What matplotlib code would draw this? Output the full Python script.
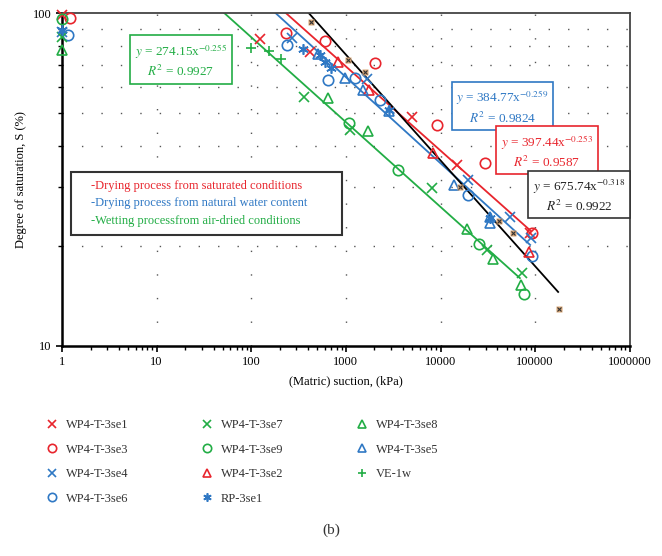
import numpy as np
import matplotlib
matplotlib.use('Agg')
import matplotlib.pyplot as plt
from matplotlib.lines import Line2D
from matplotlib.patches import Rectangle
from matplotlib.ticker import FixedLocator, NullFormatter, FuncFormatter

plt.rcParams['font.family'] = ['Liberation Serif', 'DejaVu Serif']
plt.rcParams['mathtext.fontset'] = 'stix'

RED = '#e8252d'
BLUE = '#2f78c4'
GREEN = '#22ad45'
TAN = '#d9a777'

# data: suction (kPa) and degree of saturation (%)
se1_x = [1, 124, 417, 4975, 15100, 88500]
se1_y = [99, 83.5, 76.4, 48.9, 35.0, 21.9]
se3_x = [1.2, 233, 600, 2037, 9140, 29600, 93000]
se3_y = [96.8, 87.3, 82.8, 70.8, 46.2, 35.4, 21.9]
se4_x = [1, 268, 1663, 19700, 54400, 90100]
se4_y = [88, 84.1, 63.4, 31.6, 24.5, 21.1]
se6_x = [1.15, 241, 653, 1250, 2300, 19700, 92300]
se6_y = [86, 80.3, 63.1, 63.8, 54.8, 28.5, 18.6]
se7_x = [1, 361, 1107, 8090, 30900, 73400]
se7_y = [85, 56.2, 44.7, 29.9, 19.5, 16.6]
se9_x = [1, 1089, 3590, 25800, 76500]
se9_y = [96, 46.8, 33.8, 20.2, 14.3]
se2_x = [833, 1745, 8300, 87000]
se2_y = [71.6, 58.7, 37.9, 19.2]
rp_x = [1, 355, 530, 603, 698, 2885, 33000]
rp_y = [89, 77.9, 75.0, 71.6, 68.4, 51.2, 24.3]
se8_x = [1, 644, 1703, 18970, 36200, 71100]
se8_y = [77.6, 55.8, 44.4, 22.4, 18.2, 15.2]
se5_x = [512, 981, 1510, 2885, 13900, 33000, 33000]
se5_y = [75.5, 63.8, 58.8, 51.0, 30.5, 23.5, 24.5]
ve_x = [99.5, 155, 207]
ve_y = [78.8, 77.0, 72.7]
tan_x = [429, 1063, 1596, 16100, 42000, 58100, 179000]
tan_y = [94.4, 72.6, 66.5, 30.0, 23.7, 21.8, 12.9]

# power-law fits y = a*x^b
fit_a = [274.15, 384.77, 397.44, 675.74]
fit_b = [-0.255, -0.259, -0.253, -0.318]
fit_r2 = [0.9927, 0.9824, 0.9587, 0.9922]
fit_xmax = [69000, 88500, 90000, 175000]
fit_col = [GREEN, BLUE, RED, 'black']

fig = plt.figure(figsize=(6.62, 5.56), dpi=100)
ax = fig.add_axes([0.0937, 0.3777, 0.8576, 0.5984])
ax.set_xscale('log')
ax.set_yscale('log')
ax.set_xlim(1, 1e6)
ax.set_ylim(10, 100)

# grid
for gx in [10, 100, 1000, 10000, 100000]:
    ax.axvline(gx, color='#555555', lw=1, ls=(0, (1, 16)), zorder=0)
for gy in range(20, 100, 10):
    ax.axhline(gy, color='#555555', lw=1, ls=(0, (1, 13)), zorder=0)

# fit lines
for a, b, xm, c in zip(fit_a, fit_b, fit_xmax, fit_col):
    xs = np.logspace(0, np.log10(xm), 200)
    ax.plot(xs, a * xs**b, color=c, lw=1.3, zorder=2)

ms = 7.5
mew = 1.2
series = [
    (se1_x, se1_y, 'x', RED, 'WP4-T-3se1'),
    (se3_x, se3_y, 'o', RED, 'WP4-T-3se3'),
    (se4_x, se4_y, 'x', BLUE, 'WP4-T-3se4'),
    (se6_x, se6_y, 'o', BLUE, 'WP4-T-3se6'),
    (se7_x, se7_y, 'x', GREEN, 'WP4-T-3se7'),
    (se9_x, se9_y, 'o', GREEN, 'WP4-T-3se9'),
    (se2_x, se2_y, '^', RED, 'WP4-T-3se2'),
    (rp_x, rp_y, (6, 2, 0), BLUE, 'RP-3se1'),
    (se8_x, se8_y, '^', GREEN, 'WP4-T-3se8'),
    (se5_x, se5_y, '^', BLUE, 'WP4-T-3se5'),
    (ve_x, ve_y, '+', GREEN, 'VE-1w'),
]
handles = []
for xs, ys, m, c, lab in series:
    ax.plot(xs, ys, ls='none', marker=m, ms=ms, mew=mew, mec=c, mfc='none',
            clip_on=False, zorder=3)
    handles.append(Line2D([], [], ls='none', marker=m, ms=6, mew=mew, mec=c,
                          mfc='none', label=lab))

ax.plot(tan_x, tan_y, ls='none', marker='s', ms=5, mfc=TAN, mec='none', zorder=4)
ax.plot(tan_x, tan_y, ls='none', marker='x', ms=3.5, mew=0.8, mec='#333333', zorder=5)

# axes styling
for s in ['left', 'bottom']:
    ax.spines[s].set_linewidth(1.8)
    ax.spines[s].set_color('black')
for s in ['top', 'right']:
    ax.spines[s].set_linewidth(1.3)
    ax.spines[s].set_color('#444444')

ax.xaxis.set_major_locator(FixedLocator([1, 10, 100, 1000, 10000, 100000, 1000000]))
ax.xaxis.set_major_formatter(FuncFormatter(lambda v, p: '%d' % v))
ax.xaxis.set_minor_formatter(NullFormatter())
ax.yaxis.set_major_locator(FixedLocator([10, 100]))
ax.yaxis.set_major_formatter(FuncFormatter(lambda v, p: '%d' % v))
ax.yaxis.set_minor_formatter(NullFormatter())
ax.tick_params(which='both', direction='out', labelsize=9, color='black', top=False, right=False)
ax.tick_params(which='major', length=4, width=1.2)
ax.tick_params(which='minor', length=3, width=1)

ax.set_xlabel('(Matric) suction, (kPa)', fontsize=9, labelpad=5)
ax.set_ylabel('Degree of saturation, S (%)', fontsize=9, labelpad=4)

# equation boxes
eq_pos = [(0.2096, 0.858), (0.776, 0.718), (0.854, 0.585), (0.911, 0.452)]
for (px, py), a, b, r2, c in zip(eq_pos, fit_a, fit_b, fit_r2, fit_col):
    txt = '$y$ = %.2fx$^{%s}$\n$R^2$ = %.4f' % (a, '%.3f' % b, r2)
    ax.text(px, py, txt, transform=ax.transAxes, ha='center', va='center',
            fontsize=9.5, color=c if c != 'black' else '#222222', linespacing=1.25,
            multialignment='center',
            bbox=dict(boxstyle='square,pad=0.35', fc='white', ec=c if c != 'black' else '#333333', lw=1.2),
            zorder=6)

# process description box
ax.add_patch(Rectangle((0.0159, 0.3336), 0.4768, 0.1894, transform=ax.transAxes,
                       fc='white', ec='#333333', lw=1.5, zorder=6))
desc = ['-Drying process from saturated conditions',
        '-Drying process from natural water content',
        '-Wetting processfrom air-dried conditions']
for t, yy, c in zip(desc, [0.481, 0.430, 0.376], [RED, BLUE, GREEN]):
    ax.text(0.0511, yy, t, transform=ax.transAxes, color=c, fontsize=9,
            va='center', ha='left', zorder=7)

fig.legend(handles=handles, loc='upper left', bbox_to_anchor=(0.0695, 0.246),
           ncol=3, frameon=False, fontsize=9, handlelength=1, handletextpad=0.6,
           columnspacing=5.8, labelspacing=1.0, borderpad=0, borderaxespad=0,
           labelcolor='#333333')

fig.text(0.5, 1 - 530 / 556, '(b)', ha='center', va='center', fontsize=11, color='#333333')

fig.savefig('out.png', dpi=100)
